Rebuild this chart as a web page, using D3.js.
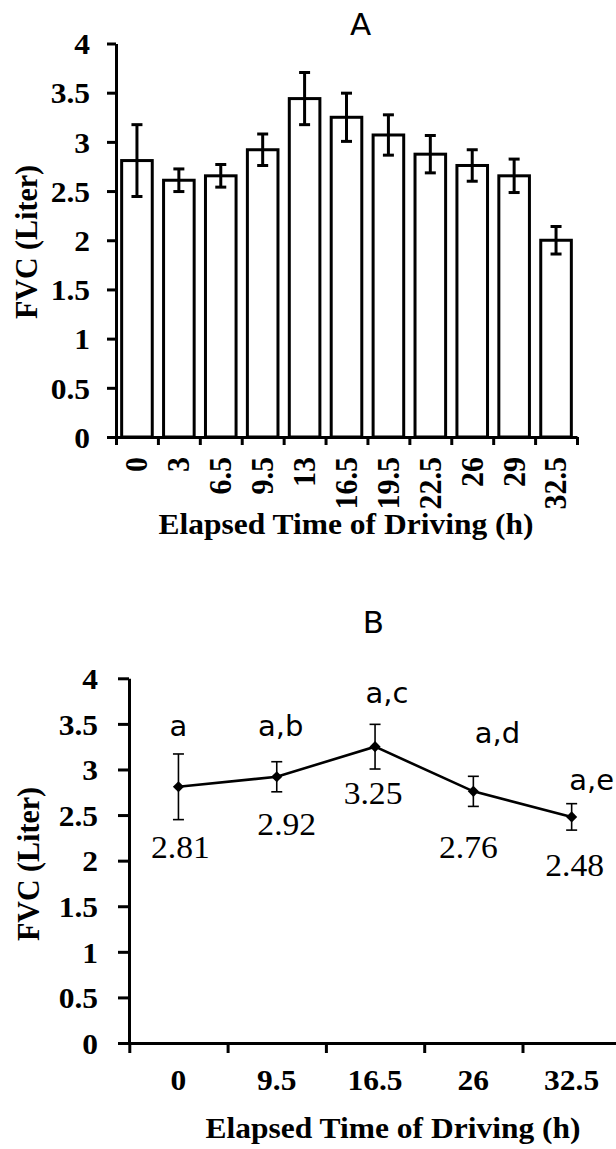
<!DOCTYPE html>
<html>
<head>
<meta charset="utf-8">
<script src="https://cdn.jsdelivr.net/npm/d3@7"></script>
<style>
  html, body { margin: 0; padding: 0; background: #fff; }
  svg { display: block; }
</style>
</head>
<body>
<svg id="chart" width="616" height="1149"></svg>
<script>
// ---- data ----
const barTimes  = ["0", "3", "6.5", "9.5", "13", "16.5", "19.5", "22.5", "26", "29", "32.5"];
const barMeans  = [2.81, 2.61, 2.655, 2.92, 3.44, 3.25, 3.07, 2.875, 2.76, 2.655, 2.00];
const barErrors = [0.365, 0.115, 0.115, 0.16, 0.265, 0.245, 0.205, 0.19, 0.16, 0.17, 0.14];

const lineTimes   = ["0", "9.5", "16.5", "26", "32.5"];
const lineMeans   = [2.81, 2.92, 3.25, 2.76, 2.48];
const lineErrors  = [0.36, 0.165, 0.245, 0.165, 0.145];
const lineLetters = ["a", "a,b", "a,c", "a,d", "a,e"];

const yTicks = [0, 0.5, 1, 1.5, 2, 2.5, 3, 3.5, 4];
const yTitle = "FVC (Liter)";
const xTitle = "Elapsed Time of Driving (h)";

// ---- layout helpers ----
const SERIF = "'Liberation Serif', 'Times New Roman', serif";
const SANS = "'DejaVu Sans', Verdana, sans-serif";
const SX = 1.05;                 // slight horizontal widening of glyphs
const svg = d3.select("#chart");

// move a text's x/y into a transform so it can be widened
function widen(sel, extra) {
  sel.each(function () {
    const t = d3.select(this);
    const x = +t.attr("x") || 0, y = +t.attr("y") || 0;
    t.attr("x", null).attr("y", null)
     .attr("transform", `translate(${x},${y}) scale(${SX},1)` + (extra || ""));
  });
}

function styleAxis(g, width) {
  g.attr("font-family", null).attr("font-size", null);
  g.select(".domain").attr("stroke", "#000").attr("stroke-width", width);
  g.selectAll(".tick line").attr("stroke", "#000").attr("stroke-width", width);
}

function boldSerif(sel, size) {
  sel.attr("font-family", SERIF).attr("font-size", size)
     .attr("font-weight", "bold").attr("fill", "#000");
}

// ================= Panel A : bar chart =================
{
  const y = d3.scaleLinear().domain([0, 4]).range([437, 43.5]);
  const edges = d3.scaleLinear().domain([0, barTimes.length]).range([116, 577]);
  const x = d3.scaleBand().domain(barTimes).range([116, 577])
              .paddingInner(0.27).paddingOuter(0.135);
  const g = svg.append("g");

  // bars
  g.selectAll("rect.bar").data(barMeans).join("rect")
    .attr("class", "bar")
    .attr("x", (d, i) => x(barTimes[i]))
    .attr("width", x.bandwidth())
    .attr("y", d => y(d))
    .attr("height", d => y(0) - y(d))
    .attr("fill", "#fff").attr("stroke", "#000").attr("stroke-width", 3);

  // error bars
  const eb = g.selectAll("g.err").data(barMeans).join("g").attr("class", "err")
    .attr("stroke", "#000").attr("stroke-width", 3);
  const cx = i => x(barTimes[i]) + x.bandwidth() / 2;
  eb.append("line").attr("x1", (d, i) => cx(i)).attr("x2", (d, i) => cx(i))
    .attr("y1", (d, i) => y(d + barErrors[i])).attr("y2", (d, i) => y(d - barErrors[i]));
  eb.append("line").attr("x1", (d, i) => cx(i) - 5.5).attr("x2", (d, i) => cx(i) + 5.5)
    .attr("y1", (d, i) => y(d + barErrors[i])).attr("y2", (d, i) => y(d + barErrors[i]));
  eb.append("line").attr("x1", (d, i) => cx(i) - 5.5).attr("x2", (d, i) => cx(i) + 5.5)
    .attr("y1", (d, i) => y(d - barErrors[i])).attr("y2", (d, i) => y(d - barErrors[i]));

  // y axis
  const ya = g.append("g").attr("transform", "translate(116,0)")
    .call(d3.axisLeft(y).tickValues(yTicks).tickFormat(d => String(d))
          .tickSize(9).tickSizeOuter(0).tickPadding(17));
  styleAxis(ya, 3);
  ya.selectAll("text").call(boldSerif, 30).attr("dy", "0.34em").call(widen);

  // x axis: category boundary ticks
  const xa = g.append("g").attr("transform", "translate(0,437)")
    .call(d3.axisBottom(edges).tickValues(d3.range(barTimes.length + 1))
          .tickFormat("").tickSize(8).tickSizeOuter(0));
  styleAxis(xa, 3);

  // x labels, rotated
  const xl = g.append("g").attr("transform", "translate(0,437)")
    .call(d3.axisBottom(x).tickSize(0));
  xl.select(".domain").remove();
  styleAxis(xl, 3);
  xl.selectAll("text").call(boldSerif, 30)
    .attr("text-anchor", "end").attr("dy", "0.33em")
    .attr("x", 0).attr("y", 20)
    .call(widen, " rotate(-90)");

  // titles
  g.append("text").call(boldSerif, 30).attr("text-anchor", "middle")
    .attr("transform", `translate(37,242) scale(${SX},1) rotate(-90)`).text(yTitle);
  g.append("text").call(boldSerif, 30).attr("text-anchor", "middle")
    .attr("transform", `translate(346,534) scale(${SX},1)`).text(xTitle);
  g.append("text").attr("font-family", SANS).attr("font-size", 31).attr("fill", "#000")
    .attr("text-anchor", "middle").attr("x", 360.5).attr("y", 35).text("A");
}

// ================= Panel B : line chart =================
{
  const y = d3.scaleLinear().domain([0, 4]).range([1043, 678.3]);
  const edges = d3.scaleLinear().domain([0, lineTimes.length]).range([129.3, 620.8]);
  const x = d3.scaleBand().domain(lineTimes).range([129.3, 620.8]);
  const px = i => x(lineTimes[i]) + x.bandwidth() / 2;
  const g = svg.append("g");

  // nudges for the annotation texts, in px relative to each point
  const letterNudge = [[0, -51], [4, -41], [12, -44], [24, -48], [20, -27]];
  const valueNudge  = [[2, 71], [10, 58], [-2, 57], [-5, 67], [3, 59]];

  // axes
  const ya = g.append("g").attr("transform", "translate(129,0)")
    .call(d3.axisLeft(y).tickValues(yTicks).tickFormat(d => String(d))
          .tickSize(11).tickSizeOuter(0).tickPadding(20));
  styleAxis(ya, 3);
  ya.selectAll("text").call(boldSerif, 30).attr("dy", "0.34em").call(widen);

  const xa = g.append("g").attr("transform", "translate(0,1043)")
    .call(d3.axisBottom(edges).tickValues(d3.range(lineTimes.length + 1))
          .tickFormat("").tickSize(10).tickSizeOuter(0));
  styleAxis(xa, 3);

  const xl = g.append("g").attr("transform", "translate(0,1043)")
    .call(d3.axisBottom(x).tickSize(0));
  xl.select(".domain").remove();
  styleAxis(xl, 3);
  xl.selectAll("text").call(boldSerif, 30)
    .attr("dy", 0).attr("x", 0).attr("y", 47).call(widen);

  // error bars
  const eb = g.selectAll("g.err").data(lineMeans).join("g").attr("class", "err")
    .attr("stroke", "#000").attr("stroke-width", 1.6);
  eb.append("line").attr("x1", (d, i) => px(i)).attr("x2", (d, i) => px(i))
    .attr("y1", (d, i) => y(d + lineErrors[i])).attr("y2", (d, i) => y(d - lineErrors[i]));
  eb.append("line").attr("x1", (d, i) => px(i) - 5.5).attr("x2", (d, i) => px(i) + 5.5)
    .attr("y1", (d, i) => y(d + lineErrors[i])).attr("y2", (d, i) => y(d + lineErrors[i]));
  eb.append("line").attr("x1", (d, i) => px(i) - 5.5).attr("x2", (d, i) => px(i) + 5.5)
    .attr("y1", (d, i) => y(d - lineErrors[i])).attr("y2", (d, i) => y(d - lineErrors[i]));

  // line + diamond markers
  g.append("path").datum(lineMeans)
    .attr("fill", "none").attr("stroke", "#000").attr("stroke-width", 2.6)
    .attr("d", d3.line().x((d, i) => px(i)).y(d => y(d)));
  g.selectAll("path.mk").data(lineMeans).join("path").attr("class", "mk")
    .attr("d", d3.symbol().type(d3.symbolSquare).size(62))
    .attr("transform", (d, i) => `translate(${px(i)},${y(d)}) rotate(45)`)
    .attr("fill", "#000");

  // significance letters
  g.selectAll("text.let").data(lineLetters).join("text").attr("class", "let")
    .attr("font-family", SANS).attr("font-size", 29)
    .attr("text-anchor", "middle").attr("fill", "#000")
    .attr("x", (d, i) => px(i) + letterNudge[i][0])
    .attr("y", (d, i) => y(lineMeans[i]) + letterNudge[i][1])
    .text(d => d);

  // value labels
  g.selectAll("text.val").data(lineMeans).join("text").attr("class", "val")
    .attr("font-family", SERIF).attr("font-size", 32)
    .attr("text-anchor", "middle").attr("fill", "#000")
    .attr("x", (d, i) => px(i) + valueNudge[i][0])
    .attr("y", (d, i) => y(d) + valueNudge[i][1])
    .text(d => d.toFixed(2))
    .call(widen);

  // titles
  g.append("text").call(boldSerif, 30).attr("text-anchor", "middle")
    .attr("transform", `translate(39,864) scale(${SX},1) rotate(-90)`).text(yTitle);
  g.append("text").call(boldSerif, 30).attr("text-anchor", "middle")
    .attr("transform", `translate(393,1138) scale(${SX},1)`).text(xTitle);
  g.append("text").attr("font-family", SANS).attr("font-size", 31).attr("fill", "#000")
    .attr("text-anchor", "middle").attr("x", 373.5).attr("y", 633).text("B");
}
</script>
</body>
</html>
